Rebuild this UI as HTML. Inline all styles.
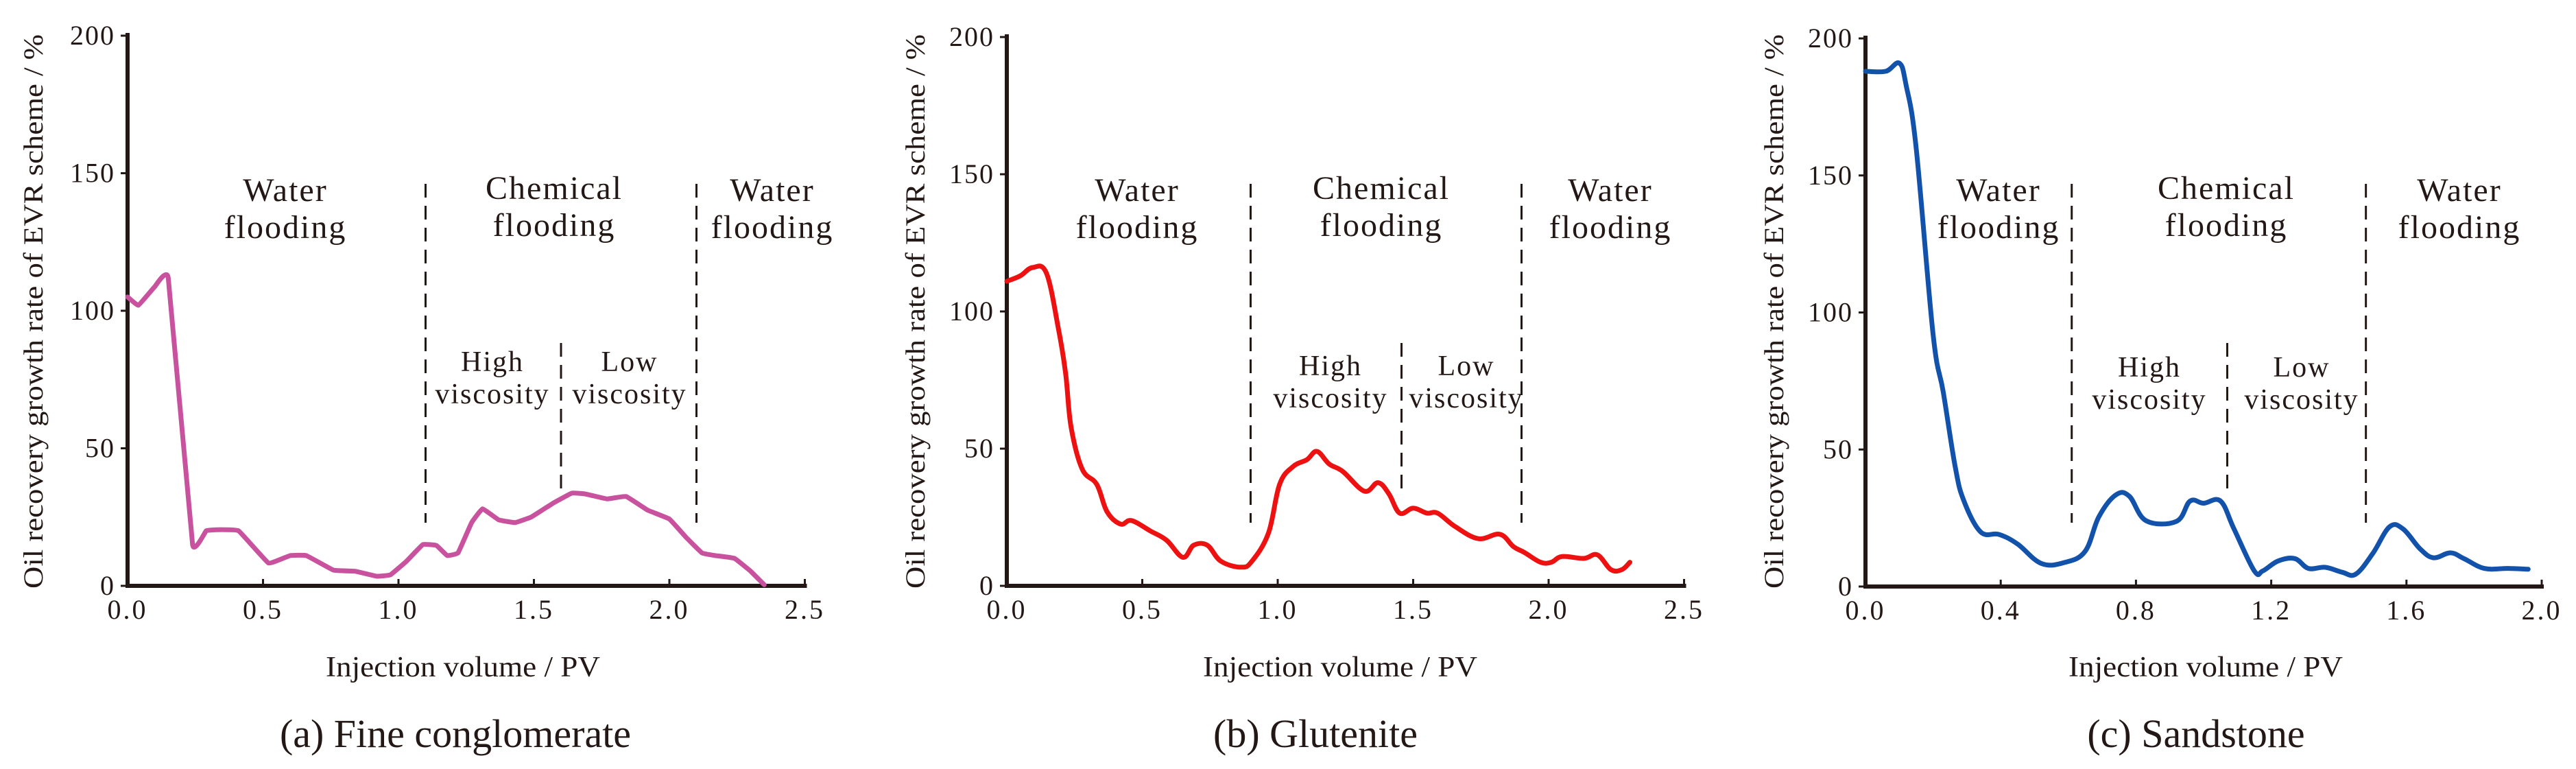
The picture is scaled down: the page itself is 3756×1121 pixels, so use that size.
<!DOCTYPE html>
<html><head><meta charset="utf-8"><style>
html,body{margin:0;padding:0;background:#fff;}
svg{display:block;font-family:"Liberation Serif",serif;}
</style></head><body>
<svg id="fig" width="3756" height="1121" viewBox="0 0 3756 1121" xmlns="http://www.w3.org/2000/svg"></svg>
<script>
// Panel (a) Fine conglomerate
const aX = [0,0.04,0.1,0.15,0.24,0.29,0.33,0.41,0.52,0.6,0.66,0.76,0.84,0.92,0.97,1.03,1.09,1.14,1.18,1.22,1.27,1.31,1.37,1.43,1.49,1.57,1.64,1.69,1.77,1.84,1.92,2.0,2.06,2.12,2.17,2.24,2.3,2.35];
const aY = [105,102,108.7,112,15,20,20.4,20,8.3,11,11,5.7,5.3,3.5,4,9,15,14.7,11,12,23,28,24,23,25,30,33.7,33.4,31.6,32.5,27.5,24.3,17.8,12,11,10,5.3,0.4];
// Panel (b) Glutenite
const bX = [0,0.05,0.095,0.146,0.19,0.217,0.237,0.278,0.332,0.37,0.42,0.46,0.53,0.59,0.65,0.69,0.74,0.79,0.865,0.905,0.966,1.007,1.057,1.108,1.145,1.19,1.24,1.32,1.37,1.41,1.45,1.5,1.55,1.59,1.655,1.74,1.82,1.87,1.91,1.97,2.01,2.05,2.13,2.18,2.23,2.27,2.3];
const bY = [111,113,116,114,94,77.5,58,42.6,37,27,22.5,23.8,20,16.6,10.4,14.8,14.8,9,6.8,9,19.3,37,43.5,46,49,44.4,41.7,34.5,37.6,33.6,26.5,28.3,26.5,26.5,21.6,17.2,18.8,14.3,12.2,8.6,8.6,10.7,10,11.3,5.9,5.9,8.6];
// Panel (c) Sandstone
const cX = [0,0.06,0.1,0.12,0.15,0.2,0.23,0.265,0.29,0.34,0.395,0.45,0.52,0.59,0.65,0.69,0.74,0.78,0.83,0.92,0.96,1.0,1.05,1.09,1.15,1.175,1.22,1.27,1.31,1.36,1.41,1.45,1.5,1.55,1.59,1.64,1.68,1.73,1.77,1.83,1.9,1.96];
const cY = [188,188,191,183,160,92,71,44,31.6,20,19,15.5,8.4,8.8,12.9,25.4,33.4,33,24,23.8,31.2,30.4,31.2,21,5.7,5.7,9.3,10.2,6.6,7,5.2,4.5,12,21.8,21,13.8,10.5,12.3,10.2,6.6,6.6,6.3];
const yTicks = [0,50,100,150,200];
const xTicksAB = [0,0.5,1.0,1.5,2.0,2.5];
const xTicksC = [0,0.4,0.8,1.2,1.6,2.0];
const aDiv = [1.1,1.6,2.1];
const bDiv = [0.9,1.457,1.9];
const cDiv = [0.61,1.07,1.48];

const NS='http://www.w3.org/2000/svg';
const svg=document.getElementById('fig');
function mk(tag,attrs,parent,text){const e=document.createElementNS(NS,tag);for(const k in attrs)e.setAttribute(k,attrs[k]);if(text!==undefined)e.textContent=text;(parent||svg).appendChild(e);return e;}

const panels=[
 {id:'a',X:aX,Y:aY,ticks:xTicksAB,div:aDiv,x0:186,ppu:395,y0:854,y200:52,color:'#c9529f',xmax:2.5,
  ytx:48,axc:675,cap:'(a) Fine conglomerate',capc:664,
  water1:416,chem:808,water2:1126,high:718,low:918,hlY:541,smooth:0.04},
 {id:'b',X:bX,Y:bY,ticks:xTicksAB,div:bDiv,x0:1468,ppu:395,y0:854,y200:54,color:'#ee1111',xmax:2.5,
  ytx:1334,axc:1954,cap:'(b) Glutenite',capc:1918,
  water1:1658,chem:2014,water2:2348,high:1940,low:2138,hlY:547,smooth:0.18},
 {id:'c',X:cX,Y:cY,ticks:xTicksC,div:cDiv,x0:2720,ppu:493,y0:855,y200:56,color:'#1252ab',xmax:2.0,
  ytx:2586,axc:3216,cap:'(c) Sandstone',capc:3202,
  water1:2914,chem:3246,water2:3586,high:3134,low:3356,hlY:549,smooth:0.18}
];

panels.forEach(p=>{
  const g=mk('g',{});
  
  
  const sx=v=>p.x0+v*p.ppu;
  const sy=v=>p.y0-(v/200)*(p.y0-p.y200);
  const ya=mk('line',{x1:p.x0,y1:p.y200-4,x2:p.x0,y2:p.y0+3,stroke:'#231815','stroke-width':6},g);
  
  
  const xa=mk('line',{x1:p.x0-3,y1:p.y0,x2:sx(p.xmax)+3,y2:p.y0,stroke:'#231815','stroke-width':6},g);
  
  
  yTicks.forEach(t=>{
    mk('line',{x1:p.x0-10,y1:sy(t),x2:p.x0,y2:sy(t),stroke:'#231815','stroke-width':3},g);
    const tl=mk('text',{x:p.x0-18,y:sy(t)+13,'text-anchor':'end','font-size':40,fill:'#231815','letter-spacing':2},g,String(t));
    
    
  });
  p.ticks.forEach(t=>{
    mk('line',{x1:sx(t),y1:p.y0,x2:sx(t),y2:p.y0-10,stroke:'#231815','stroke-width':3},g);
    const tl=mk('text',{x:sx(t),y:p.y0+48,'text-anchor':'middle','font-size':40,fill:'#231815','letter-spacing':3},g,t.toFixed(1));
    
    
  });
  p.div.forEach((d,i)=>{
    const top=i===1?500:268, bot=i===1?720:762;
    const dl=mk('line',{x1:sx(d),y1:top,x2:sx(d),y2:bot,stroke:'#231815','stroke-width':3,'stroke-dasharray':'20 12'},g);
    
    
  });
  const lab=(cx,y1,t1,t2,fs,name)=>{
    const t=mk('text',{'text-anchor':'middle','font-size':fs,fill:'#231815','letter-spacing':2},g);
    
    
    mk('tspan',{x:cx,y:y1},t,t1);
    mk('tspan',{x:cx,y:y1+Math.round(fs*1.12)},t,t2);
  };
  lab(p.water1,293,'Water','flooding',48,'water-flooding-label');
  lab(p.chem,290,'Chemical','flooding',48,'chemical-flooding-label');
  lab(p.water2,293,'Water','flooding',48,'water-flooding-label-2');
  lab(p.high,p.hlY,'High','viscosity',42,'high-viscosity-label');
  lab(p.low,p.hlY,'Low','viscosity',42,'low-viscosity-label');
  const pts=p.X.map((x,i)=>[sx(x),sy(p.Y[i])]);
  const k=p.smooth;
  let d='M'+pts[0][0].toFixed(1)+','+pts[0][1].toFixed(1);
  for(let i=0;i<pts.length-1;i++){
    const p0=pts[Math.max(i-1,0)],p1=pts[i],p2=pts[i+1],p3=pts[Math.min(i+2,pts.length-1)];
    const c1=[p1[0]+(p2[0]-p0[0])*k,p1[1]+(p2[1]-p0[1])*k];
    const c2=[p2[0]-(p3[0]-p1[0])*k,p2[1]-(p3[1]-p1[1])*k];
    d+='C'+c1[0].toFixed(1)+','+c1[1].toFixed(1)+' '+c2[0].toFixed(1)+','+c2[1].toFixed(1)+' '+p2[0].toFixed(1)+','+p2[1].toFixed(1);
  }
  const path=mk('path',{d:d,fill:'none',stroke:p.color,'stroke-width':7,'stroke-linejoin':'round','stroke-linecap':'round'},g);
  
  
  const xt=mk('text',{x:p.axc,y:986,'text-anchor':'middle','font-size':42,fill:'#231815',textLength:400,lengthAdjust:'spacingAndGlyphs'},g,'Injection volume / PV');
  
  
  const ycy=454;
  const yt=mk('text',{x:p.ytx,y:ycy,'text-anchor':'middle','font-size':40,fill:'#231815',transform:'rotate(-90 '+p.ytx+' '+ycy+')',dy:14,textLength:808,lengthAdjust:'spacingAndGlyphs'},g,'Oil recovery growth rate of EVR scheme / %');
  
  
  const cap=mk('text',{x:p.capc,y:1089,'text-anchor':'middle','font-size':58,fill:'#231815'},g,p.cap);
  
  
});
</script>
</body></html>
